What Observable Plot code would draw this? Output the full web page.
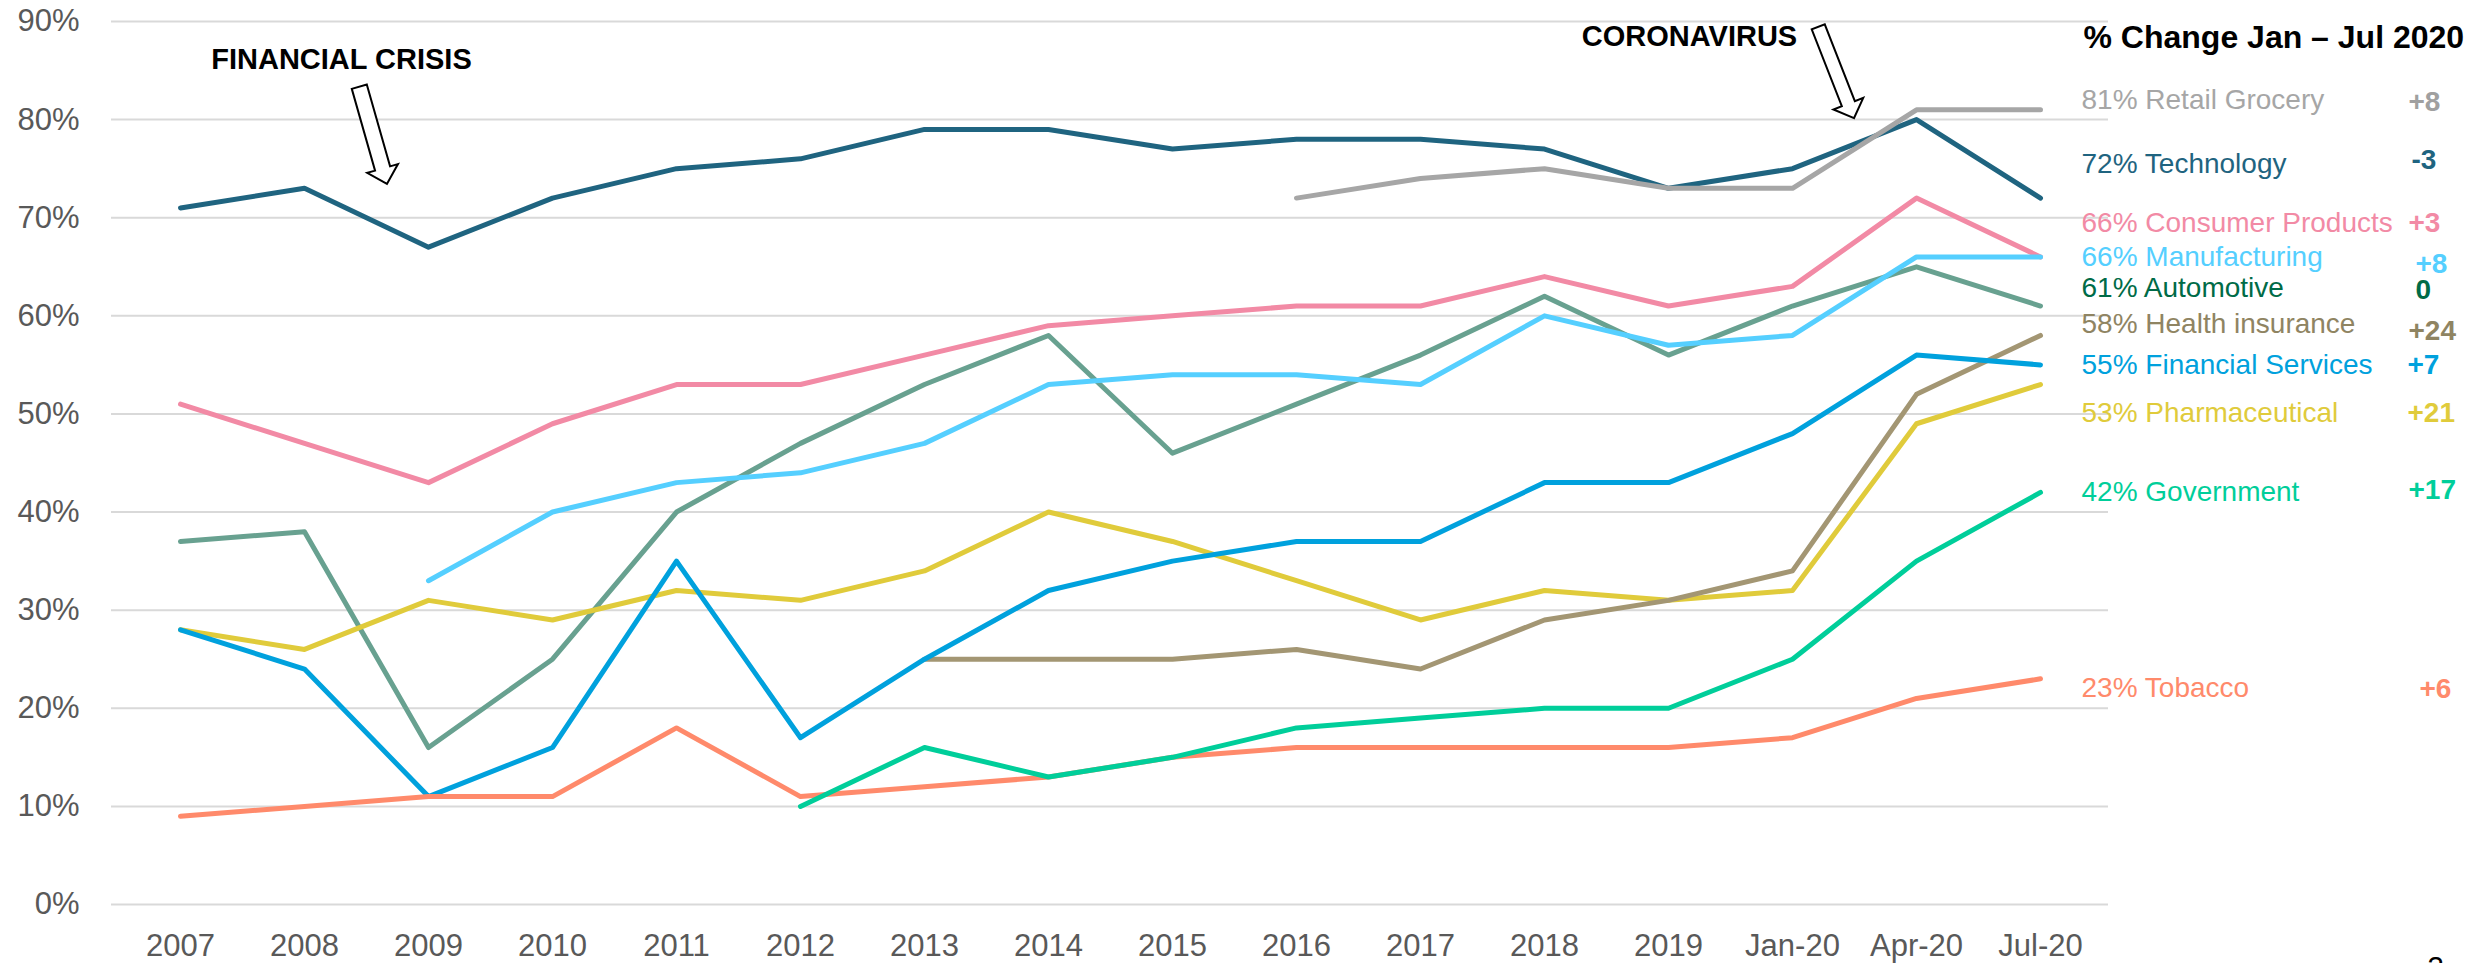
<!DOCTYPE html>
<html>
<head>
<meta charset="utf-8">
<script src="https://cdn.jsdelivr.net/npm/d3@7"></script>
<script src="https://cdn.jsdelivr.net/npm/@observablehq/plot@0.6"></script>
<style>
html, body { margin: 0; padding: 0; background: #fff; overflow: hidden; }
#chart { width: 2479px; height: 963px; overflow: hidden; }
#chart svg { display: block; }
</style>
</head>
<body>
<div id="chart"></div>
<script>
// ---------- DATA ----------
const periods = ["2007","2008","2009","2010","2011","2012","2013","2014","2015","2016","2017","2018","2019","Jan-20","Apr-20","Jul-20"];
const yTicks = [0,10,20,30,40,50,60,70,80,90];

const technology        = [71,73,67,72,75,76,79,79,77,78,78,77,73,75,80,72];
const consumerProducts  = [51,47,43,49,53,53,56,59,60,61,61,64,61,63,72,66];
const automotive        = [37,38,16,25,40,47,53,58,46,51,56,62,56,61,65,61];
const manufacturing     = [null,null,33,40,43,44,47,53,54,54,53,60,57,58,66,66];
const pharmaceutical    = [28,26,31,29,32,31,34,40,37,33,29,32,31,32,49,53];
const healthInsurance   = [null,null,null,null,null,null,25,25,25,26,24,29,31,34,52,58];
const financialServices = [28,24,11,16,35,17,25,32,35,37,37,43,43,48,56,55];
const tobacco           = [9,10,11,11,18,11,12,13,15,16,16,16,16,17,21,23];
const government        = [null,null,null,null,null,10,16,13,15,18,19,20,20,25,35,42];
const retailGrocery     = [null,null,null,null,null,null,null,null,null,72,74,75,73,73,81,81];

const sectorNames = ["Technology","Consumer Products","Automotive","Manufacturing","Pharmaceutical","Health insurance","Financial Services","Tobacco","Government","Retail Grocery"];
const sectorValues = [technology, consumerProducts, automotive, manufacturing, pharmaceutical, healthInsurance, financialServices, tobacco, government, retailGrocery];
const changeJanJul = ["-3","+3","0","+8","+21","+24","+7","+6","+17","+8"];

const titleText = "% Change Jan \u2013 Jul 2020";
const annotations = ["FINANCIAL CRISIS", "CORONAVIRUS"];

// ---------- STYLE / LAYOUT ----------
const lineColors  = ["#1F6480","#F28AA5","#68A190","#55CFFF","#E0CB3B","#A39673","#00A1DD","#FF8A6B","#00CE9A","#A6A6A6"];
const labelColors = ["#1F6480","#F28AA5","#006B47","#55CFFF","#E0CB3B","#8F8462","#00A1DD","#FF8A6B","#00CE9A","#A6A6A6"];
const changeColors= ["#1F6480","#F28AA5","#006B47","#55CFFF","#E0CB3B","#8F8462","#00A1DD","#FF8A6B","#00CE9A","#A0A0A0"];
// label vertical placement (in axis units) and extra horizontal shift for change values
const labelLayout = {
  "Retail Grocery":     {ly: 81.95, cy: 81.75, cdx: 0},
  "Technology":         {ly: 75.5,  cy: 75.85, cdx: 3},
  "Consumer Products":  {ly: 69.5,  cy: 69.5,  cdx: 0},
  "Manufacturing":      {ly: 65.95, cy: 65.25, cdx: 7},
  "Automotive":         {ly: 62.8,  cy: 62.6,  cdx: 7},
  "Health insurance":   {ly: 59.2,  cy: 58.5,  cdx: 0},
  "Financial Services": {ly: 54.95, cy: 54.95, cdx: -1},
  "Pharmaceutical":     {ly: 50.05, cy: 50.05, cdx: -1},
  "Government":         {ly: 42.0,  cy: 42.2,  cdx: 0},
  "Tobacco":            {ly: 22.1,  cy: 22.0,  cdx: 11}
};

const W = 2479, H = 963;
const FONT = "'Liberation Sans', Arial, Helvetica, sans-serif";

// tidy rows
const rows = [];
sectorNames.forEach((s, si) => {
  sectorValues[si].forEach((v, i) => {
    if (v !== null) rows.push({sector: s, period: periods[i], value: v});
  });
});
const lastPeriod = periods[periods.length - 1];

const labelMarks = [];
sectorNames.forEach((s, si) => {
  const vals = sectorValues[si];
  const last = vals[vals.length - 1];
  const L = labelLayout[s];
  labelMarks.push(Plot.text([{s, last}], {
    x: () => lastPeriod, y: () => L.ly, text: d => `${d.last}% ${d.s}`,
    dx: 41, textAnchor: "start", lineAnchor: "middle",
    fill: labelColors[si], fontSize: 28, fontFamily: FONT
  }));
  labelMarks.push(Plot.text([changeJanJul[si]], {
    x: () => lastPeriod, y: () => L.cy, text: d => d,
    dx: 368 + L.cdx, textAnchor: "start", lineAnchor: "middle",
    fill: changeColors[si], fontSize: 28, fontWeight: "bold", fontFamily: FONT
  }));
});

const plot = Plot.plot({
  width: W, height: H,
  marginTop: 21, marginBottom: 59, marginLeft: 111, marginRight: 371,
  style: {fontFamily: FONT, background: "#fff", overflow: "visible"},
  x: {type: "point", domain: periods, padding: 0.5, label: null},
  y: {domain: [0, 90], label: null},
  color: {domain: sectorNames, range: lineColors},
  marks: [
    Plot.gridY(yTicks, {stroke: "#D9D9D9", strokeOpacity: 1, strokeWidth: 2}),
    Plot.axisY(yTicks, {tickSize: 0, tickPadding: 32, fontSize: 31, fill: "#595959", tickFormat: d => d + "%", label: null}),
    Plot.axisX({tickSize: 0, tickPadding: 29, fontSize: 31, fill: "#595959", label: null}),
    Plot.line(rows, {x: "period", y: "value", z: "sector", stroke: "sector", strokeWidth: 5, strokeLinecap: "round", strokeLinejoin: "round"}),
    ...labelMarks,
    Plot.text([titleText], {frameAnchor: "top-right", text: d => d, dx: -25, dy: 16, textAnchor: "start", lineAnchor: "middle", fontSize: 32, fontWeight: "bold", fill: "#000", fontFamily: FONT}),
    Plot.text([annotations[0]], {frameAnchor: "top-left", text: d => d, dx: 230, dy: 38, textAnchor: "middle", lineAnchor: "middle", fontSize: 29, fontWeight: "bold", fill: "#000", fontFamily: FONT}),
    Plot.text([annotations[1]], {frameAnchor: "top-left", text: d => d, dx: 1578, dy: 15, textAnchor: "middle", lineAnchor: "middle", fontSize: 29, fontWeight: "bold", fill: "#000", fontFamily: FONT}),
    Plot.text(["2"], {frameAnchor: "bottom-right", text: d => d, dx: 327, dy: 72, textAnchor: "middle", lineAnchor: "bottom", fontSize: 30, fill: "#000", fontFamily: FONT})
  ]
});

document.getElementById("chart").appendChild(plot);

// ---------- block arrows anchored to the scales ----------
const xs = plot.scale("x"), ys = plot.scale("y");
const step = xs.apply(periods[1]) - xs.apply(periods[0]);
function blockArrow(period, frac, value, angle, len, sw, hw, hl) {
  const tx = xs.apply(period) + frac * step, ty = ys.apply(value);
  const d = `M0,0 L${-hw},${-hl} L${-sw},${-hl} L${-sw},${-len} L${sw},${-len} L${sw},${-hl} L${hw},${-hl} Z`;
  d3.select(plot).append("path")
    .attr("d", d)
    .attr("transform", `translate(${tx},${ty}) rotate(${angle})`)
    .attr("fill", "#fff").attr("stroke", "#000").attr("stroke-width", 2)
    .attr("stroke-linejoin", "miter");
}
blockArrow("2008", 0.669, 73.4, -15.9, 101, 7.8, 16, 16);
blockArrow("Jan-20", 0.50, 80.1, -21.4, 98, 7, 16, 15.5);
</script>
</body>
</html>
